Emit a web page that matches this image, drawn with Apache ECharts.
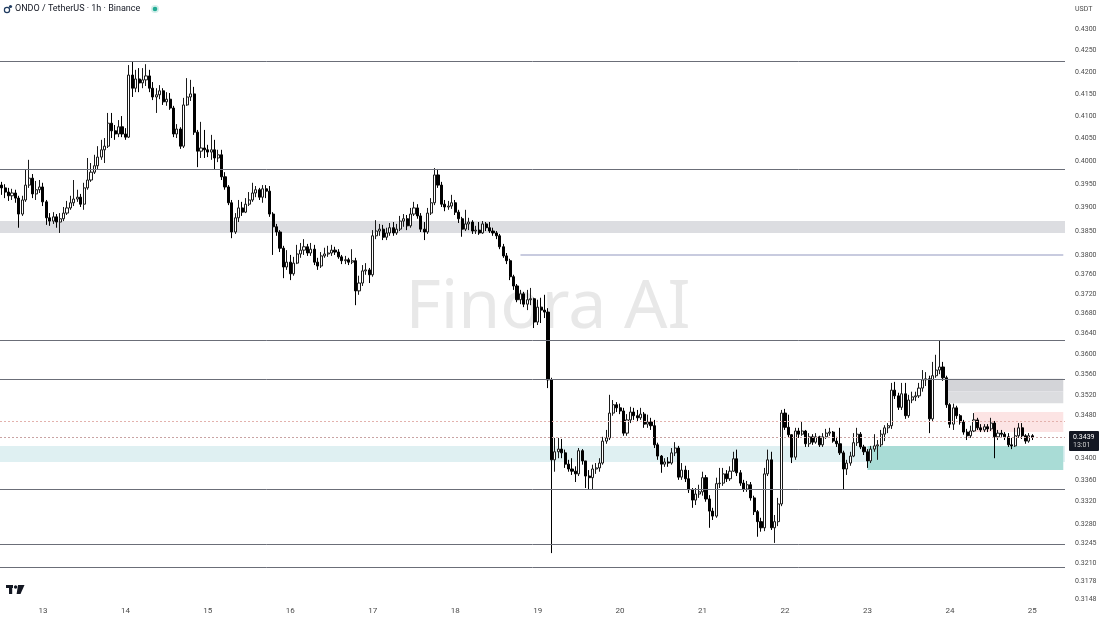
<!DOCTYPE html>
<html><head><meta charset="utf-8">
<script src="https://cdn.jsdelivr.net/npm/echarts@6/dist/echarts.min.js"></script>
<style>html,body{margin:0;padding:0;background:#fff}#c{width:1100px;height:619px}</style>
</head><body><div id="c"></div>
<script>
// ONDO/USDT 1h candles, 12 Dec 12:00 -> 25 Dec 00:00. Prices in 1/10000 USDT.
const PRICE_UNIT = 10000;
const opens = [
3948,3942,3933,3925,3931,3920,3886,3916,3948,3963,
3929,3938,3944,3912,3878,3871,3880,3869,3876,3888,
3899,3910,3918,3922,3907,3942,3959,3976,3990,4009,
4025,4033,4084,4067,4060,4076,4060,4053,4193,4163,
4184,4175,4182,4191,4163,4143,4148,4157,4132,4138,
4118,4060,4071,4033,4125,4143,4150,4064,4022,4029,
4025,4020,4025,4007,4014,3966,3944,3910,3848,3878,
3899,3890,3907,3916,3931,3938,3922,3940,3935,3886,
3859,3848,3814,3775,3785,3761,3783,3802,3810,3817,
3804,3812,3785,3777,3798,3802,3804,3810,3806,3796,
3788,3790,3785,3788,3726,3742,3767,3769,3759,3840,
3850,3854,3837,3846,3857,3846,3854,3871,3876,3861,
3886,3899,3882,3854,3848,3888,3910,3970,3948,3907,
3901,3903,3910,3890,3876,3854,3865,3869,3850,3852,
3846,3865,3857,3850,3846,3840,3817,3798,3788,3755,
3736,3708,3720,3699,3708,3710,3663,3693,3687,3683,
3549,3397,3412,3417,3410,3389,3380,3376,3371,3414,
3395,3367,3364,3380,3382,3391,3432,3438,3485,3501,
3495,3489,3447,3472,3487,3480,3476,3483,3464,3468,
3461,3425,3404,3389,3393,3391,3410,3419,3365,3378,
3362,3342,3323,3334,3338,3364,3325,3303,3294,3353,
3354,3371,3362,3376,3399,3373,3354,3343,3351,3327,
3302,3284,3273,3371,3397,3273,3284,3316,3485,3458,
3444,3402,3451,3445,3451,3427,3440,3430,3440,3425,
3440,3447,3449,3432,3427,3410,3380,3391,3404,3429,
3445,3421,3412,3395,3417,3423,3425,3445,3457,3461,
3529,3518,3496,3522,3480,3510,3516,3518,3533,3549,
3551,3474,3557,3568,3574,3553,3501,3464,3495,3480,
3468,3449,3442,3451,3472,3457,3453,3459,3455,3466,
3440,3447,3445,3440,3425,3423,3442,3457,3442,3432,
3442];
const closes = [
3942,3933,3925,3931,3920,3886,3916,3948,3963,3929,
3938,3944,3912,3878,3871,3880,3869,3876,3888,3899,
3910,3918,3922,3907,3942,3959,3976,3990,4009,4025,
4033,4084,4067,4060,4076,4060,4053,4193,4163,4184,
4175,4182,4191,4163,4143,4148,4157,4132,4138,4118,
4060,4071,4033,4125,4143,4150,4064,4022,4029,4025,
4020,4025,4007,4014,3966,3944,3910,3848,3878,3899,
3890,3907,3916,3931,3938,3922,3940,3935,3886,3859,
3848,3814,3775,3785,3761,3783,3802,3810,3817,3804,
3812,3785,3777,3798,3802,3804,3810,3806,3796,3788,
3790,3785,3788,3726,3742,3767,3769,3759,3840,3850,
3854,3837,3846,3857,3846,3854,3871,3876,3861,3886,
3899,3882,3854,3848,3888,3910,3970,3948,3907,3901,
3903,3910,3890,3876,3854,3865,3869,3850,3852,3846,
3865,3857,3850,3846,3840,3817,3798,3788,3755,3736,
3708,3720,3699,3708,3710,3663,3693,3687,3683,3549,
3397,3412,3417,3410,3389,3380,3376,3371,3414,3395,
3367,3364,3380,3382,3391,3432,3438,3485,3501,3495,
3489,3447,3472,3487,3480,3476,3483,3464,3468,3461,
3425,3404,3389,3393,3391,3410,3419,3365,3378,3362,
3342,3323,3334,3338,3364,3325,3303,3294,3353,3354,
3371,3362,3376,3399,3373,3354,3343,3351,3327,3302,
3284,3273,3371,3397,3273,3284,3316,3485,3458,3444,
3402,3451,3445,3451,3427,3440,3430,3440,3425,3440,
3447,3449,3432,3427,3410,3380,3391,3404,3429,3445,
3421,3412,3395,3417,3423,3425,3445,3457,3461,3529,
3518,3496,3522,3480,3510,3516,3518,3533,3549,3551,
3474,3557,3568,3574,3553,3501,3464,3495,3480,3468,
3449,3442,3451,3472,3457,3453,3459,3455,3466,3440,
3447,3445,3440,3425,3423,3442,3457,3442,3432,3442,
3439];
const highs = [
3955,3950,3942,3940,3938,3925,3925,3981,4003,3972,
3957,3959,3953,3916,3888,3890,3886,3888,3901,3914,
3925,3959,3938,3929,3953,4007,3996,4014,4033,4047,
4051,4107,4107,4080,4091,4100,4073,4216,4225,4205,
4209,4209,4218,4205,4177,4163,4170,4163,4154,4152,
4123,4082,4075,4141,4186,4182,4166,4069,4087,4069,
4036,4058,4047,4025,4025,3976,3948,3916,3888,3916,
3912,3920,3933,3953,3946,3942,3948,3948,3946,3890,
3865,3852,3819,3810,3800,3796,3821,3825,3833,3823,
3825,3821,3794,3806,3815,3819,3821,3817,3812,3800,
3798,3794,3812,3794,3757,3779,3783,3773,3852,3873,
3865,3863,3857,3867,3869,3865,3882,3886,3884,3899,
3912,3907,3888,3869,3899,3920,3985,3983,3955,3916,
3914,3927,3916,3895,3880,3895,3878,3873,3861,3869,
3871,3869,3869,3857,3850,3844,3823,3804,3792,3759,
3740,3728,3724,3728,3732,3712,3708,3712,3718,3691,
3553,3438,3438,3436,3416,3397,3400,3385,3419,3417,
3395,3378,3388,3391,3400,3440,3453,3520,3510,3506,
3503,3495,3483,3497,3495,3491,3495,3487,3482,3476,
3472,3429,3406,3400,3402,3419,3430,3423,3391,3386,
3378,3345,3345,3351,3375,3369,3332,3309,3364,3382,
3382,3378,3385,3412,3416,3378,3360,3358,3356,3331,
3305,3291,3382,3416,3412,3296,3327,3491,3493,3482,
3445,3457,3457,3468,3453,3447,3445,3447,3442,3447,
3455,3457,3451,3440,3457,3414,3397,3412,3447,3457,
3449,3425,3417,3423,3445,3434,3453,3462,3466,3543,
3545,3524,3543,3543,3520,3526,3526,3543,3568,3564,
3557,3584,3598,3627,3584,3557,3504,3503,3499,3483,
3472,3455,3461,3485,3476,3464,3464,3464,3476,3470,
3453,3453,3449,3447,3438,3457,3466,3466,3445,3447,
3445];
const lows = [
3927,3920,3914,3916,3910,3857,3882,3912,3942,3920,
3916,3931,3903,3863,3861,3865,3857,3846,3871,3884,
3895,3903,3912,3901,3895,3938,3955,3972,3983,4003,
3996,4029,4051,4047,4053,4053,4047,4051,4143,4154,
4154,4163,4168,4154,4136,4107,4138,4125,4123,4114,
4053,4051,4027,4029,4123,4134,4058,3987,4007,4007,
4009,4003,3981,3998,3959,3938,3905,3835,3844,3869,
3882,3888,3903,3912,3922,3916,3910,3920,3880,3800,
3840,3806,3752,3769,3748,3757,3781,3794,3800,3798,
3798,3779,3769,3773,3794,3796,3798,3800,3792,3781,
3781,3779,3781,3697,3718,3736,3759,3742,3755,3833,
3840,3831,3831,3840,3840,3842,3850,3859,3852,3857,
3882,3876,3848,3831,3844,3884,3905,3942,3901,3892,
3895,3897,3884,3867,3838,3850,3852,3844,3844,3842,
3844,3850,3846,3840,3833,3812,3794,3781,3748,3728,
3703,3699,3693,3687,3697,3651,3657,3661,3671,3533,
3228,3375,3400,3400,3382,3375,3369,3356,3367,3388,
3345,3342,3343,3371,3375,3388,3427,3434,3480,3487,
3483,3442,3442,3466,3472,3468,3472,3457,3457,3453,
3419,3397,3373,3384,3384,3388,3404,3360,3360,3356,
3336,3309,3314,3327,3331,3320,3273,3287,3291,3345,
3349,3356,3358,3375,3367,3349,3338,3338,3322,3296,
3257,3266,3267,3367,3269,3246,3276,3312,3453,3438,
3391,3397,3438,3442,3421,3421,3425,3427,3421,3421,
3436,3442,3429,3421,3406,3342,3369,3386,3402,3423,
3417,3406,3382,3391,3412,3397,3421,3432,3447,3455,
3512,3491,3491,3474,3476,3504,3508,3514,3526,3537,
3447,3470,3553,3560,3547,3495,3457,3453,3474,3463,
3444,3434,3438,3449,3453,3449,3449,3449,3451,3400,
3434,3440,3434,3421,3417,3421,3438,3436,3427,3429,
3434];

// price scale tick labels (USDT)
const yTickValues = [0.4300,0.4250,0.4200,0.4150,0.4100,0.4050,0.4000,0.3950,0.3900,0.3850,0.3800,
  0.3760,0.3720,0.3680,0.3640,0.3600,0.3560,0.3520,0.3480,0.3400,0.3360,0.3320,0.3280,0.3245,0.3210,0.3178,0.3148];
// horizontal levels drawn on the chart (USDT)
const solidLevels = [0.4225, 0.3983, 0.3627, 0.3551, 0.3343, 0.3243, 0.3203];
const dottedLevels = [0.3470, 0.3439];
const grayBand = [0.3871, 0.3846];
const cyanBand = [0.3423, 0.3393];
const lavenderLevel = 0.3800;        // from candle index 151
const grayBoxTop = [0.3551, 0.3527]; // from candle index 275
const grayBoxBottom = [0.3527, 0.3504];
const pinkBox = [0.3487, 0.3449];    // from candle index 283
const tealBox = [0.3423, 0.3378];    // from candle index 252
const lastPrice = 0.3439;

// hourly categories (with empty slots on the right)
const START_DAY = 12, START_HOUR = 12, SLOTS = 310;
const categories = [];
for (let k = 0; k < SLOTS; k++) {
  const t = START_HOUR + k;
  const d = START_DAY + Math.floor(t / 24);
  const h = t % 24;
  categories.push(d + ' ' + String(h).padStart(2, '0') + ':00');
}
const lastCat = categories[SLOTS - 1];

const candles = closes.map((c, i) => [opens[i] / PRICE_UNIT, c / PRICE_UNIT, lows[i] / PRICE_UNIT, highs[i] / PRICE_UNIT]);

const chart = echarts.init(document.getElementById('c'), null, {renderer: 'canvas'});
const FONT = 'Roboto, "Noto Sans", sans-serif';

const markLines = solidLevels.map(v => ({yAxis: v, lineStyle: {color: '#6b6e78', width: 1, type: 'solid'}}))
  .concat([
    {yAxis: dottedLevels[0], lineStyle: {color: '#e3b2ad', width: 1, type: [2, 2]}},
    {yAxis: dottedLevels[1], lineStyle: {color: '#c9a3a3', width: 1, type: [2, 2]}},
    [{coord: [categories[151], lavenderLevel], lineStyle: {color: '#c8cbdf', width: 2, type: 'solid'}},
     {coord: [lastCat, lavenderLevel]}]
  ]);

const markAreas = [
  [{yAxis: grayBand[0], itemStyle: {color: '#dcdde1'}}, {yAxis: grayBand[1]}],
  [{yAxis: cyanBand[0], itemStyle: {color: '#dff0f2'}}, {yAxis: cyanBand[1]}],
  [{xAxis: categories[252], yAxis: tealBox[0], itemStyle: {color: '#a9dcd6'}}, {xAxis: lastCat, yAxis: tealBox[1]}],
  [{xAxis: categories[275], yAxis: grayBoxTop[0], itemStyle: {color: '#d3d4d8'}}, {xAxis: lastCat, yAxis: grayBoxTop[1]}],
  [{xAxis: categories[275], yAxis: grayBoxBottom[0], itemStyle: {color: '#dcdde0'}}, {xAxis: lastCat, yAxis: grayBoxBottom[1]}],
  [{xAxis: categories[283], yAxis: pinkBox[0], itemStyle: {color: '#fce4e4'}}, {xAxis: lastCat, yAxis: pinkBox[1]}]
];

const option = {
  animation: false,
  backgroundColor: '#ffffff',
  grid: {left: -1, right: 35, top: 0, bottom: 13, containLabel: false},
  xAxis: {
    type: 'category',
    data: categories,
    boundaryGap: true,
    axisLine: {show: false},
    axisTick: {show: false},
    splitLine: {show: false},
    axisLabel: {
      interval: (idx, val) => val.endsWith(' 00:00'),
      formatter: val => val.split(' ')[0],
      color: '#4a4a4a', fontSize: 8, fontFamily: FONT, margin: 1
    }
  },
  yAxis: {
    type: 'log',
    logBase: 10,
    position: 'right',
    min: 0.31359,
    max: 0.43688,
    axisLine: {show: false},
    axisTick: {show: false},
    splitLine: {show: false},
    axisLabel: {
      customValues: yTickValues,
      formatter: v => Number(v).toFixed(4),
      color: '#4a4a4a', fontSize: 7, fontFamily: FONT, margin: 10, align: 'left'
    }
  },
  series: [{
    type: 'candlestick',
    data: candles,
    barWidth: 2.6,
    itemStyle: {
      color: '#ffffff', color0: '#000000',
      borderColor: '#1a1a1a', borderColor0: '#000000', borderWidth: 1
    },
    markLine: {silent: true, precision: 6, symbol: ['none', 'none'], label: {show: false}, animation: false, data: markLines},
    markArea: {silent: true, precision: 6, label: {show: false}, animation: false, data: markAreas}
  }],
  graphic: [
    {type: 'text', x: 548, y: 309, z: -10, silent: true, style: {text: 'Finora AI', align: 'center', verticalAlign: 'middle',
      fill: '#e8e8e8', font: '68px "Noto Sans", sans-serif'}},
    {type: 'circle', shape: {cx: 7, cy: 10, r: 2.6}, style: {fill: 'none', stroke: '#1e3a5f', lineWidth: 1.2}},
    {type: 'circle', shape: {cx: 10.5, cy: 6.5, r: 1.6}, style: {fill: '#1e3a5f'}},
    {type: 'text', x: 15, y: 9, style: {text: 'ONDO / TetherUS · 1h · Binance', fill: '#131722', font: '9px ' + FONT, verticalAlign: 'middle'}},
    {type: 'circle', shape: {cx: 155, cy: 9, r: 4}, style: {fill: 'rgba(34,171,148,0.2)'}},
    {type: 'circle', shape: {cx: 155, cy: 9, r: 2.3}, style: {fill: '#22ab94'}},
    {type: 'text', x: 1075, y: 9, style: {text: 'USDT', fill: '#4a4a4a', font: '7px ' + FONT, verticalAlign: 'middle'}},
    {type: 'rect', shape: {x: 1069, y: 431, width: 30, height: 20, r: 1}, style: {fill: '#131722'}},
    {type: 'text', x: 1073, y: 437, style: {text: lastPrice.toFixed(4), fill: '#ffffff', font: '7px ' + FONT, verticalAlign: 'middle'}},
    {type: 'text', x: 1073, y: 445.5, style: {text: '13:01', fill: '#d0d0d0', font: '7px ' + FONT, verticalAlign: 'middle'}},
    {type: 'rect', shape: {x: 6, y: 585, width: 7, height: 3}, style: {fill: '#131722'}},
    {type: 'rect', shape: {x: 9, y: 585, width: 3.2, height: 9}, style: {fill: '#131722'}},
    {type: 'circle', shape: {cx: 15.6, cy: 587, r: 1.7}, style: {fill: '#131722'}},
    {type: 'polygon', shape: {points: [[18, 585], [24.5, 585], [20.5, 594], [16.6, 594]]}, style: {fill: '#131722'}}
  ]
};
chart.setOption(option);
</script>
</body></html>
